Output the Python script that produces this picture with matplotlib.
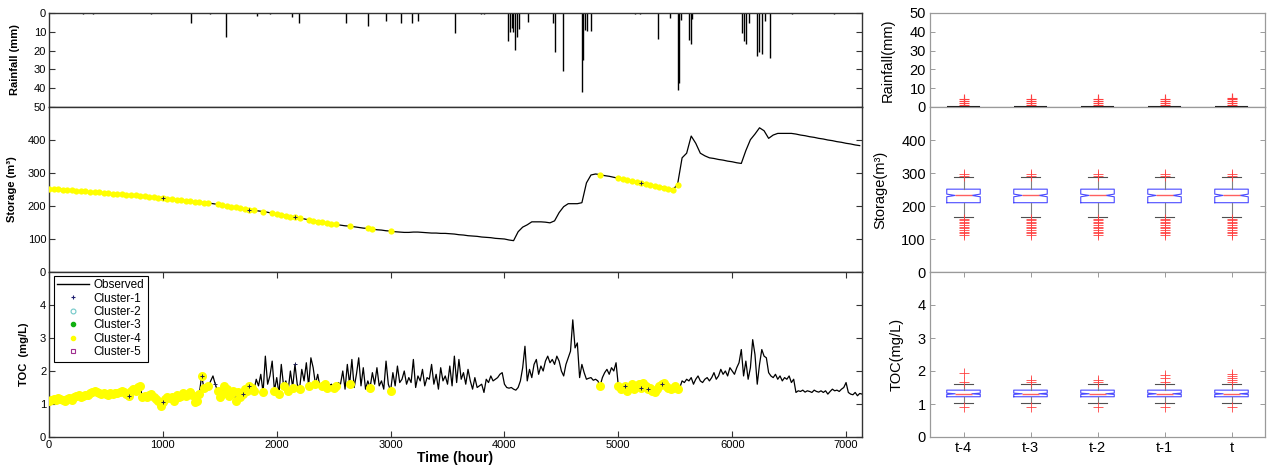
import numpy as np
import matplotlib
matplotlib.use('Agg')
import matplotlib.pyplot as plt
from matplotlib.lines import Line2D

plt.rcParams['font.family'] = ['Liberation Sans', 'DejaVu Sans']

# ---------------- data ----------------
rain_hours = [300, 390, 900, 1244, 1414, 1551, 1829, 1941, 2131, 2198, 2608, 2798, 2959,
              3088, 3185, 3243, 3565, 3790, 3820, 4033, 4048, 4063, 4077, 4092, 4107,
              4127, 4209, 4428, 4443, 4516, 4682, 4690, 4706, 4721, 4759, 5144, 5188,
              5349, 5452, 5523, 5532, 5547, 5620, 5635, 5649, 6089, 6104, 6124, 6148,
              6215, 6236, 6265, 6285, 6329, 6528, 6894]
rain_mm = [0.5, 0.5, 0.5, 5.5, 0.5, 12.6, 1.6, 0.6, 2.0, 5.5, 5.5, 6.7, 4.5,
           5.5, 5.5, 4.5, 10.8, 0.6, 0.6, 14.7, 10.0, 8.0, 10.0, 19.7, 12.6,
           8.6, 4.8, 5.5, 20.9, 30.7, 41.8, 25.0, 9.0, 9.6, 9.6, 0.6, 0.6,
           13.8, 2.8, 41.0, 37.4, 3.5, 14.4, 16.6, 3.0, 10.8, 14.9, 16.6, 5.5,
           22.9, 20.6, 21.8, 4.0, 24.1, 0.6, 0.6]

storage_step = 40  # hours between storage samples
storage_vals = [
    253, 252, 251, 250, 248, 247, 246, 245, 244, 243,
    242, 241, 240, 238, 237, 236, 235, 234, 233, 232,
    230, 229, 228, 227, 225, 224, 222, 221, 219, 218,
    216, 215, 213, 212, 210, 209, 207, 205, 202, 200,
    198, 196, 194, 191, 189, 187, 185, 183, 181, 178,
    176, 173, 171, 168, 166, 163, 161, 158, 156, 153,
    151, 148, 146, 144, 142, 140, 139, 137, 135, 133,
    132, 130, 128, 127, 125, 124, 122, 121, 120, 120,
    121, 121, 120, 119, 118, 118, 117, 117, 116, 115,
    113, 112, 110, 109, 108, 106, 105, 104, 102, 101,
    100, 97, 95, 122, 136, 143, 152, 152, 152, 151,
    149, 155, 180, 198, 207, 207, 207, 210, 270, 294,
    297, 295, 292, 290, 287, 284, 281, 278, 276, 273,
    270, 267, 264, 261, 259, 256, 253, 250, 265, 346,
    360, 412, 390, 360, 352, 346, 344, 341, 339, 336,
    334, 331, 329, 368, 401, 418, 437, 428, 405, 415,
    420, 420, 420, 420, 418, 415, 413, 410, 408, 405,
    403, 400, 398, 395, 393, 390, 388, 385, 383]

toc_step = 20  # hours between TOC samples
toc_vals = [
    1.10, 1.12, 1.15, 1.13, 1.18, 1.16, 1.12, 1.10, 1.14, 1.18,
    1.12, 1.20, 1.24, 1.26, 1.22, 1.25, 1.28, 1.27, 1.32, 1.35,
    1.38, 1.36, 1.34, 1.30, 1.33, 1.31, 1.28, 1.32, 1.30, 1.34,
    1.32, 1.36, 1.40, 1.35, 1.30, 1.25, 1.38, 1.44, 1.40, 1.52,
    1.55, 1.20, 1.25, 1.22, 1.28, 1.30, 1.20, 1.15, 1.10, 0.95,
    1.05, 1.15, 1.20, 1.18, 1.22, 1.10, 1.28, 1.20, 1.25, 1.32,
    1.25, 1.30, 1.35, 1.28, 1.05, 1.10, 1.30, 1.85, 1.50, 1.45,
    1.55, 1.70, 1.85, 1.60, 1.40, 1.20, 1.30, 1.55, 1.45, 1.25,
    1.30, 1.40, 1.10, 1.35, 1.20, 1.30, 1.45, 1.40, 1.55, 1.50,
    1.40, 1.75, 1.55, 1.90, 1.35, 2.45, 1.60, 1.85, 2.30, 1.40,
    1.80, 1.30, 2.20, 1.55, 1.70, 1.40, 2.00, 1.50, 2.20, 1.60,
    1.45, 2.05, 1.70, 2.25, 1.55, 2.40, 2.10, 1.60, 1.90, 1.50,
    1.55, 1.60, 1.50, 1.55, 1.60, 1.50, 1.55, 1.65, 1.60, 2.00,
    1.45, 2.20, 1.60, 2.35, 1.50, 1.90, 2.40, 1.55, 2.10, 1.45,
    1.70, 1.50, 1.95, 1.60, 2.10, 1.55, 1.70, 1.45, 2.30, 1.60,
    1.40, 1.95, 1.55, 2.15, 1.65, 1.75, 2.00, 1.60, 1.80, 1.65,
    2.35, 1.50, 1.85, 1.70, 2.05, 1.55, 1.80, 1.75, 2.20, 1.60,
    1.90, 1.45, 2.10, 1.70, 1.85, 1.60, 2.15, 1.55, 2.45, 1.65,
    2.35, 1.75, 1.95, 1.60, 2.05, 1.70, 1.45, 1.80, 1.50, 1.55,
    1.60, 1.35, 1.75, 1.65, 1.85, 1.70, 1.75, 1.80, 1.90, 1.95,
    1.60, 1.50, 1.48, 1.50, 1.45, 1.42, 1.50, 1.70, 2.10, 2.75,
    1.70, 2.05, 1.80, 2.20, 2.35, 1.90, 2.15, 2.00, 2.30, 2.45,
    2.25, 2.35, 2.20, 2.45, 2.30, 2.00, 1.85, 2.20, 2.40, 2.60,
    3.55, 2.70, 2.85, 1.80, 2.20, 1.95, 1.75, 1.78, 1.80, 1.72,
    1.75, 1.70, 1.55, 1.80, 1.95, 2.05, 1.90, 2.10, 2.00, 2.25,
    1.55, 1.45, 1.50, 1.55, 1.40, 1.50, 1.60, 1.45, 1.55, 1.60,
    1.50, 1.65, 1.55, 1.45, 1.50, 1.40, 1.35, 1.45, 1.55, 1.60,
    1.65, 1.55, 1.50, 1.45, 1.50, 1.55, 1.45, 1.50, 1.70, 1.65,
    1.75, 1.70, 1.80, 1.60, 1.75, 1.85, 1.70, 1.65, 1.75, 1.80,
    1.70, 1.80, 1.95, 1.75, 1.85, 2.05, 1.90, 2.00, 1.85, 2.10,
    2.00, 1.90, 2.10, 2.25, 2.65, 1.85, 2.30, 1.75, 2.10, 2.95,
    2.50, 1.60, 2.20, 2.65, 2.45, 2.40, 1.95, 1.85, 1.80, 1.90,
    1.75, 1.85, 1.70, 1.80, 1.75, 1.85, 1.65, 1.75, 1.35, 1.40,
    1.38, 1.42, 1.36, 1.40, 1.38, 1.35, 1.42, 1.38, 1.36, 1.40,
    1.35, 1.40, 1.30, 1.38, 1.45, 1.40, 1.42, 1.38, 1.45, 1.50,
    1.65, 1.35, 1.30, 1.28, 1.35, 1.25, 1.32, 1.30]

# hour ranges assigned to cluster 4, and hours assigned to cluster 1
cluster4_ranges = [(0, 1360), (1400, 1400), (1480, 1600), (1600, 1800), (1880, 1880),
                   (1980, 1980), (2020, 2020), (2060, 2060), (2100, 2100), (2140, 2140),
                   (2200, 2200), (2280, 2280), (2340, 2340), (2400, 2440), (2500, 2520),
                   (2640, 2640), (2820, 2820), (3000, 3000), (4840, 4840), (5000, 5520)]
cluster1_hours = [700, 1000, 1340, 1460, 1700, 1760, 2160, 5060, 5200, 5260, 5380]

# box-plot summaries for the lagged inputs
lag_labels = ['t-4', 't-3', 't-2', 't-1', 't']
rain_fliers = [[1, 2, 3, 4], [1, 2, 3, 4], [1, 2, 3, 4], [1, 2, 3, 4], [1, 2, 3, 4, 5]]
stor_q1, stor_med, stor_q3, stor_lo, stor_hi = 210, 232, 251, 168, 287
stor_fliers = [292, 298, 162, 157, 152, 147, 142, 137, 132, 127, 122, 117, 112]
toc_q1, toc_med, toc_q3, toc_lo, toc_hi = 1.22, 1.31, 1.42, 1.02, 1.62
toc_fliers = [[1.93, 1.68, 0.90],
              [1.72, 1.66, 0.90],
              [1.72, 1.66, 0.90],
              [1.88, 1.80, 1.68, 0.90],
              [1.92, 1.86, 1.80, 1.74, 1.68, 0.90]]

# ---------------- figure ----------------
fig = plt.figure(figsize=(12.71, 4.68), dpi=100)
LX, LW = 49 / 1271, 813 / 1271
RX, RW = 930 / 1271, 335 / 1271
H = 468.0
def rect(x, w, top, bot):
    return [x, 1 - bot / H, w, (bot - top) / H]

axL_r = fig.add_axes(rect(LX, LW, 13, 107))
axL_s = fig.add_axes(rect(LX, LW, 107, 272))
axL_t = fig.add_axes(rect(LX, LW, 272, 437))
axR_r = fig.add_axes(rect(RX, RW, 13, 107))
axR_s = fig.add_axes(rect(RX, RW, 107, 272))
axR_t = fig.add_axes(rect(RX, RW, 272, 437))

lcol = '#333333'
for ax in (axL_r, axL_s, axL_t):
    for sp in ax.spines.values():
        sp.set_color(lcol)
        sp.set_linewidth(1.0)
    ax.tick_params(direction='in', length=4, width=0.8, colors=lcol, labelcolor='k',
                   labelsize=8, left=True, right=True, top=False, bottom=False,
                   labelbottom=False, pad=2)
    ax.set_xlim(0, 7140)

rcol = '#9a9a9a'
for ax in (axR_r, axR_s, axR_t):
    for sp in ax.spines.values():
        sp.set_color(rcol)
        sp.set_linewidth(0.9)
    ax.tick_params(direction='in', length=3.5, width=0.7, colors=rcol, labelcolor='k',
                   labelsize=10.5, left=True, right=True, top=False, bottom=False,
                   labelbottom=False, pad=3)
    ax.set_xlim(0.5, 5.5)

# left rainfall (inverted)
axL_r.vlines(rain_hours, 0, rain_mm, color='k', lw=1.0)
axL_r.set_ylim(50, 0)
axL_r.set_yticks([0, 10, 20, 30, 40, 50])
axL_r.set_ylabel('Rainfall (mm)', fontsize=8, fontweight='bold')
axL_r.yaxis.set_label_coords(-0.036, 0.5)

s_hours = np.arange(len(storage_vals)) * storage_step
s_vals = np.array(storage_vals, dtype=float)
t_hours = np.arange(len(toc_vals)) * toc_step
t_vals = np.array(toc_vals, dtype=float)

def in_ranges(hours, ranges, tol):
    m = np.zeros(len(hours), dtype=bool)
    for a, b in ranges:
        m |= (hours >= a - tol) & (hours <= b + tol)
    return m

def near(hours, pts, tol):
    m = np.zeros(len(hours), dtype=bool)
    for p in pts:
        m |= np.abs(hours - p) <= tol
    return m

ms4 = in_ranges(s_hours, cluster4_ranges, storage_step / 2)
mt4 = in_ranges(t_hours, cluster4_ranges, toc_step / 2)
ms1 = near(s_hours, cluster1_hours, storage_step / 2 - 1)
mt1 = near(t_hours, cluster1_hours, toc_step / 2 - 1)

yellow = '#ffff00'
axL_s.plot(s_hours, s_vals, color='k', lw=0.9, zorder=2)
axL_s.plot(s_hours[ms4], s_vals[ms4], ls='none', marker='o', ms=4.5, mfc=yellow,
           mec='none', zorder=3)
axL_s.plot(s_hours[ms1], s_vals[ms1], ls='none', marker='+', ms=2.5, mew=0.7,
           color='#202050', zorder=4)
axL_s.set_ylim(0, 500)
axL_s.set_yticks([0, 100, 200, 300, 400])
axL_s.set_ylabel('Storage (m³)', fontsize=8, fontweight='bold')
axL_s.yaxis.set_label_coords(-0.039, 0.5)

axL_t.plot(t_hours, t_vals, color='k', lw=0.9, zorder=2)
axL_t.plot(t_hours[mt4], t_vals[mt4], ls='none', marker='o', ms=6.5, mfc=yellow,
           mec='none', zorder=3)
axL_t.plot(t_hours[mt1], t_vals[mt1], ls='none', marker='+', ms=2.5, mew=0.7,
           color='#202050', zorder=4)
axL_t.set_ylim(0, 5)
axL_t.set_yticks([0, 1, 2, 3, 4])
axL_t.set_xticks([0, 1000, 2000, 3000, 4000, 5000, 6000, 7000])
axL_t.tick_params(top=True, bottom=True, labelbottom=True)
axL_t.set_ylabel('TOC  (mg/L)', fontsize=8, fontweight='bold')
axL_t.yaxis.set_label_coords(-0.025, 0.5)
axL_t.set_xlabel('Time (hour)', fontsize=10, fontweight='bold', labelpad=1)

handles = [Line2D([], [], color='k', lw=1.0),
           Line2D([], [], ls='none', marker='+', ms=3.5, mew=0.8, color='#202070'),
           Line2D([], [], ls='none', marker='o', ms=3.5, mfc='none', mec='#70c8c8', mew=0.8),
           Line2D([], [], ls='none', marker='o', ms=3, mfc='#10b010', mec='#10b010'),
           Line2D([], [], ls='none', marker='o', ms=3, mfc=yellow, mec=yellow),
           Line2D([], [], ls='none', marker='s', ms=3.5, mfc='none', mec='#a03090', mew=0.8)]
labels = ['Observed', 'Cluster-1', 'Cluster-2', 'Cluster-3', 'Cluster-4', 'Cluster-5']
leg = axL_t.legend(handles, labels, loc='upper left', bbox_to_anchor=(0.006, 0.978),
                   borderaxespad=0, fontsize=8.5, labelspacing=0.12, handlelength=2.7,
                   handletextpad=0.35, borderpad=0.3, fancybox=False, framealpha=1,
                   numpoints=1)
leg.get_frame().set_edgecolor('k')
leg.get_frame().set_linewidth(0.8)

# ---------------- right box plots ----------------
positions = [1, 2, 3, 4, 5]
box_kw = dict(positions=positions, widths=0.5, capwidths=0.27, patch_artist=False,
              boxprops=dict(color='#4a4aff', lw=0.8),
              medianprops=dict(color='#ff6060', lw=1.0),
              whiskerprops=dict(color='#808080', lw=0.8),
              capprops=dict(color='#505050', lw=0.8),
              flierprops=dict(marker='+', markeredgecolor='#ff4040', markersize=7,
                              mew=0.6, ls='none'))

rain_stats = [dict(q1=0, med=0, q3=0, whislo=0, whishi=0, fliers=f) for f in rain_fliers]
rain_kw = dict(box_kw, medianprops=dict(color='k', lw=1.5),
               flierprops=dict(marker='+', markeredgecolor='#ff4040', markersize=7,
                               mew=0.8, ls='none'))
axR_r.bxp(rain_stats, **rain_kw)
axR_r.set_ylim(0, 50)
axR_r.set_yticks([0, 10, 20, 30, 40, 50])
axR_r.set_ylabel('Rainfall(mm)', fontsize=10.5)
axR_r.yaxis.set_label_coords(-0.104, 0.5)

stor_stats = [dict(q1=stor_q1, med=stor_med, q3=stor_q3, whislo=stor_lo, whishi=stor_hi,
                   fliers=stor_fliers, cilo=stor_med - 4, cihi=stor_med + 4)
              for _ in lag_labels]
axR_s.bxp(stor_stats, shownotches=True, **box_kw)
axR_s.set_ylim(0, 500)
axR_s.set_yticks([0, 100, 200, 300, 400])
axR_s.set_ylabel('Storage(m³)', fontsize=10.5)
axR_s.yaxis.set_label_coords(-0.128, 0.5)

toc_stats = [dict(q1=toc_q1, med=toc_med, q3=toc_q3, whislo=toc_lo, whishi=toc_hi,
                  fliers=f, cilo=toc_med - 0.02, cihi=toc_med + 0.02) for f in toc_fliers]
axR_t.bxp(toc_stats, shownotches=True, **box_kw)
axR_t.set_ylim(0, 5)
axR_t.set_yticks([0, 1, 2, 3, 4])
axR_t.set_ylabel('TOC(mg/L)', fontsize=10.5)
axR_t.yaxis.set_label_coords(-0.08, 0.5)
axR_t.set_xticks(positions)
axR_t.set_xticklabels(lag_labels)
axR_t.tick_params(top=True, bottom=True, labelbottom=True, labelsize=10.5)

for ax in (axR_r, axR_s):
    ax.set_xticks(positions)
    ax.tick_params(bottom=False, labelbottom=False)
axR_t.set_xlim(0.5, 5.5)

fig.savefig('out.png', dpi=100)
